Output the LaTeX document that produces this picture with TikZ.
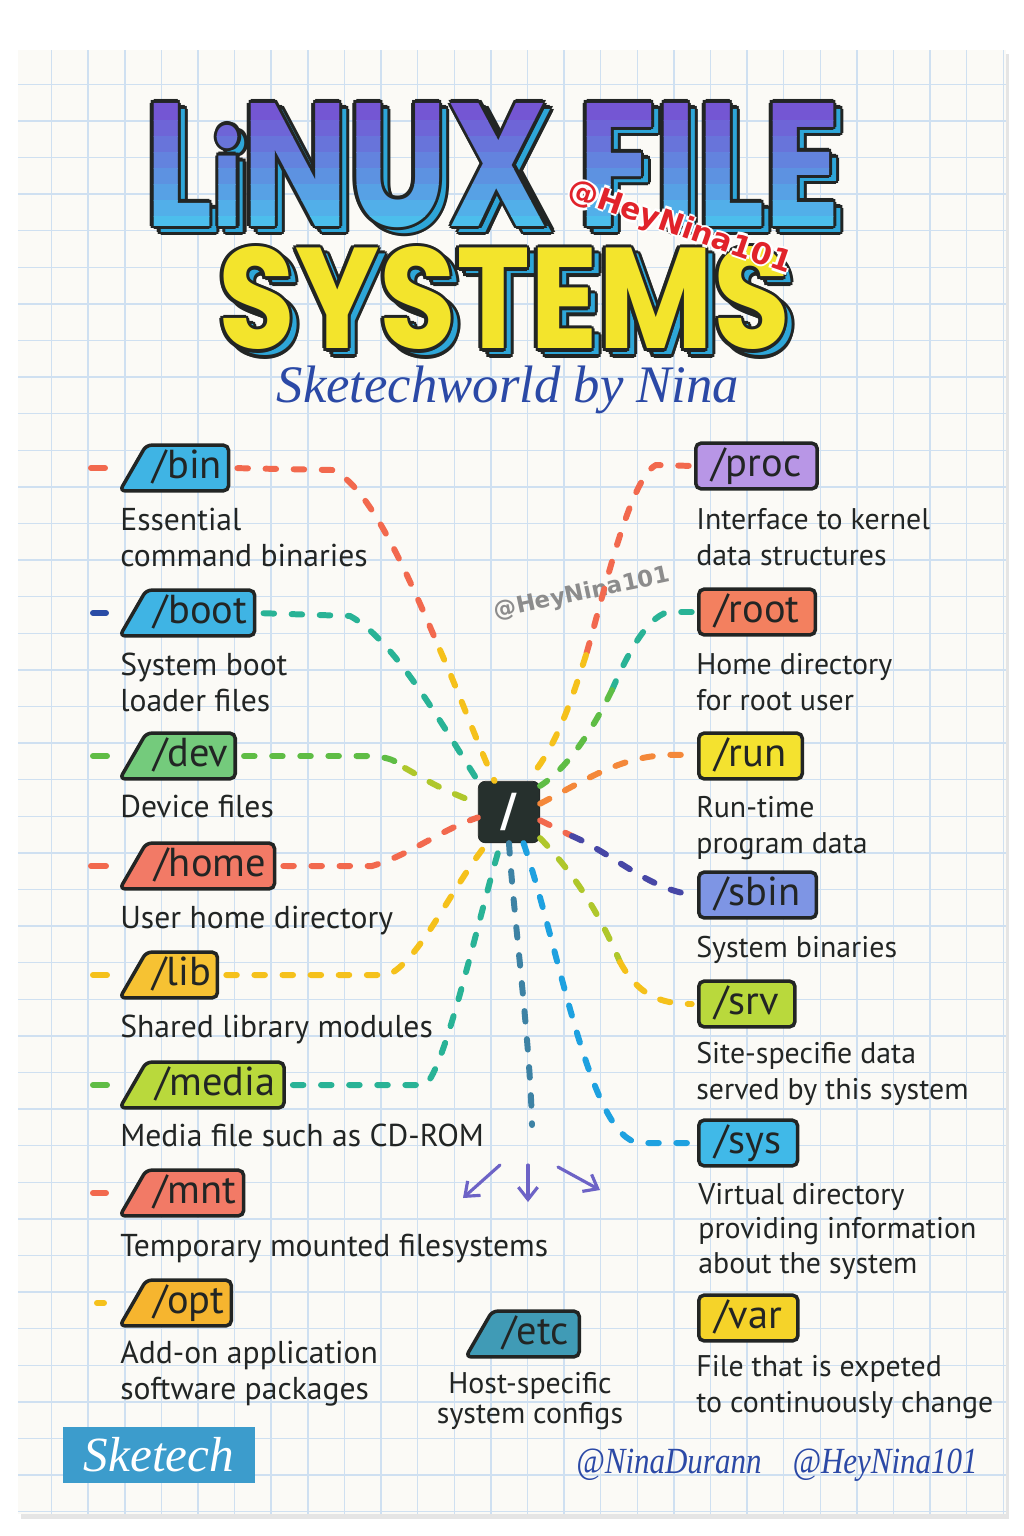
\documentclass[tikz,border=0pt]{standalone}
\usepackage{graphicx}
\usepackage{fontspec}
\setmainfont{PT Sans}
\newfontfamily\titlefont{Poppins}
\newfontfamily\markfont{DejaVu Sans}
\newfontfamily\handfont{Liberation Serif}
\usetikzlibrary{shapes.geometric,arrows.meta,calc}

% paper and ink
\definecolor{paper}{HTML}{FBFAF6}
\definecolor{gridblue}{HTML}{CFE0F1}
\definecolor{inkblack}{HTML}{222524}
\definecolor{slashbox}{HTML}{26302D}
% tag fills
\definecolor{binblue}{HTML}{3FB4E4}
\definecolor{devgreen}{HTML}{74CB7C}
\definecolor{homered}{HTML}{F27A66}
\definecolor{libyellow}{HTML}{F6C233}
\definecolor{medialime}{HTML}{B9D93C}
\definecolor{optorange}{HTML}{F6B52F}
\definecolor{procpurple}{HTML}{B896E6}
\definecolor{rootorange}{HTML}{F3805F}
\definecolor{runyellow}{HTML}{F4E22F}
\definecolor{sbinblue}{HTML}{7E95E4}
\definecolor{sysblue}{HTML}{40B9E8}
\definecolor{varyellow}{HTML}{F5D329}
\definecolor{etcteal}{HTML}{409BB6}
% link colours
\definecolor{lnred}{HTML}{F2694E}
\definecolor{lnyellow}{HTML}{F5C11B}
\definecolor{lnteal}{HTML}{29B396}
\definecolor{lngreen}{HTML}{5FBD45}
\definecolor{lnlime}{HTML}{AFC72B}
\definecolor{lnorange}{HTML}{F4883A}
\definecolor{lnindigo}{HTML}{4747A6}
\definecolor{lnblue}{HTML}{1EA1E0}
\definecolor{lnslate}{HTML}{3D82A4}
\definecolor{lnnavy}{HTML}{2A4CA6}
\definecolor{arrowviolet}{HTML}{6D63C6}
% title and handles
\definecolor{titlepurple}{HTML}{7456D3}
\definecolor{titlecyan}{HTML}{4CBEEC}
\definecolor{titleyellow}{HTML}{F3E42C}
\definecolor{titleshadow}{HTML}{2EA6D8}
\definecolor{handblue}{HTML}{2B49A6}
\definecolor{markred}{HTML}{E1232B}
\definecolor{sketchblue}{HTML}{3C9CCC}

\tikzset{
  dirtag/.style={trapezium, trapezium left angle=60, trapezium right angle=90,
    draw=inkblack, line width=2pt, rounded corners=3pt, anchor=west,
    minimum height=26pt, inner xsep=2pt, inner ysep=1pt,
    text height=17pt, text depth=5pt, text=inkblack,
    font=\fontsize{23}{23}\selectfont},
  boxtag/.style={dirtag, rectangle, inner xsep=9pt},
  desc/.style={anchor=north west, align=left, inner sep=0pt, text=inkblack,
    font=\fontsize{18}{20.5}\selectfont},
  rdesc/.style={desc, font=\fontsize{17}{20.5}\selectfont},
  link/.style={line width=3.4pt, line cap=round, dash pattern=on 6pt off 10pt},
  stub/.style={line width=3.4pt, line cap=round},
  forkarrow/.style={arrowviolet, line width=1.8pt, line cap=round,
    -{Straight Barb[length=7pt,width=11pt]}},
  wordbox/.style={anchor=south west, inner sep=0pt},
}

\newcommand{\linuxword}{\resizebox{13.9cm}{2.46cm}{\titlefont\bfseries L\smash{\scalebox{0.72}{i}}NUX FILE}}
\newcommand{\systemsword}{\resizebox{11.44cm}{2.04cm}{\titlefont\bfseries SYSTEMS}}
% ink outline and shadow behind a title word
\newcommand{\inkword}[3]{%
  \foreach \a in {0,45,...,315}
    \node[wordbox, text=inkblack] at ($#1+(7,6)+(\a:3.5)$) {#2};
  \node[wordbox, text=#3] at ($#1+(7,6)$) {#2};
  \foreach \a in {0,45,...,315}
    \node[wordbox, text=inkblack] at ($#1+(\a:3.5)$) {#2};
}

\begin{document}
\begin{tikzpicture}[x=0.02cm, y=-0.02cm]
    \useasboundingbox (0,0) rectangle (1024,1536);
    \fill[white] (0,0) rectangle (1024,1536);
    % Sheet of squared paper
    \fill[black!10] (21,54) rectangle (1009,1519);
    \fill[paper] (18,50) rectangle (1006,1514);
    \begin{scope}
        \clip (18,50) rectangle (1006,1514);
        \foreach \x in {15,51.6,...,1010} \draw[gridblue, line width=0.8pt] (\x,50) -- (\x,1514);
        \foreach \y in {11,47.6,...,1520} \draw[gridblue, line width=0.8pt] (18,\y) -- (1006,\y);
    \end{scope}

    % Title
    \inkword{(145,228)}{\linuxword}{titleshadow}
    \foreach \i in {0,...,7} {
        \pgfmathsetmacro\ya{\i==0 ? 40 : 104+\i*16}
        \pgfmathsetmacro\yb{\i==7 ? 270 : 120+\i*16}
        \pgfmathtruncatemacro\mix{100-\i*100/7}
        \begin{scope}
            \clip (120,\ya) rectangle (880,\yb);
            \node[wordbox, text=titlepurple!\mix!titlecyan] at (145,228) {\linuxword};
        \end{scope}
    }
    \inkword{(218,350)}{\systemsword}{titleshadow}
    \node[wordbox, text=titleyellow] (systems) at (218,350) {\systemsword};
    \foreach \a in {0,90,180,270}
        \node[rotate=-19, text=white, font=\markfont\bfseries\fontsize{17}{17}\selectfont] at ($(680,228)+(\a:2.5)$) {@HeyNina101};
    \node[rotate=-19, text=markred, font=\markfont\bfseries\fontsize{17}{17}\selectfont] (redmark) at (680,228) {@HeyNina101};
    \node[text=handblue, font=\handfont\itshape\fontsize{30}{30}\selectfont] (subtitle) at (508,390) {Sketechworld by Nina};
    \node[rotate=12, text=black!45, font=\markfont\bfseries\fontsize{13}{13}\selectfont] (graymark) at (582,594) {@HeyNina101};

    % Root directory
    \node[fill=slashbox, draw=inkblack, rounded corners=4pt, minimum size=35pt, text=white,
        font=\markfont\bfseries\fontsize{26}{26}\selectfont] (slash) at (509,812) {/};

    % Left-hand tags
    \node[dirtag, fill=binblue] (bin) at (131,468) {/bin};
    \node[desc] (binD) at (120,508) {Essential\\command binaries};
    \node[dirtag, fill=binblue] (boot) at (131,613) {/boot};
    \node[desc] (bootD) at (120,653) {System boot\\loader files};
    \node[dirtag, fill=devgreen] (dev) at (131,756) {/dev};
    \node[desc] (devD) at (120,795) {Device files};
    \node[dirtag, fill=homered] (home) at (131,866) {/home};
    \node[desc] (homeD) at (120,906) {User home directory};
    \node[dirtag, fill=libyellow] (lib) at (131,975) {/lib};
    \node[desc] (libD) at (120,1015) {Shared library modules};
    \node[dirtag, fill=medialime] (media) at (131,1085) {/media};
    \node[desc] (mediaD) at (120,1124) {Media file such as CD-ROM};
    \node[dirtag, fill=homered] (mnt) at (131,1193) {/mnt};
    \node[desc] (mntD) at (120,1234) {Temporary mounted filesystems};
    \node[dirtag, fill=optorange] (opt) at (131,1303) {/opt};
    \node[desc] (optD) at (120,1341) {Add-on application\\software packages};

    % Right-hand tags
    \node[boxtag, fill=procpurple] (proc) at (694,466) {/proc};
    \node[rdesc] (procD) at (696,508) {Interface to kernel\\data structures};
    \node[boxtag, fill=rootorange] (root) at (697,612) {/root};
    \node[rdesc] (rootD) at (696,653) {Home directory\\for root user};
    \node[boxtag, fill=runyellow] (run) at (697,756) {/run};
    \node[rdesc] (runD) at (696,796) {Run-time\\program data};
    \node[boxtag, fill=sbinblue] (sbin) at (697,895) {/sbin};
    \node[rdesc] (sbinD) at (696,936) {System binaries};
    \node[boxtag, fill=medialime] (srv) at (697,1004) {/srv};
    \node[rdesc] (srvD) at (696,1042) {Site-specifie data\\served by this system};
    \node[boxtag, fill=sysblue] (sys) at (697,1143) {/sys};
    \node[rdesc, font=\fontsize{17}{19.5}\selectfont] (sysD) at (698,1183) {Virtual directory\\providing information\\about the system};
    \node[boxtag, fill=varyellow] (var) at (697,1318) {/var};
    \node[rdesc] (varD) at (696,1355) {File that is expeted\\to continuously change};

    % Bottom tag
    \node[dirtag, fill=etcteal, inner xsep=4pt] (etc) at (477,1334) {/etc};
    \node[desc, anchor=north, align=center, font=\fontsize{17}{17}\selectfont] (etcD) at (530,1372) {Host-specific\\system configs};

    % Left-hand links
    \coordinate (binM) at (440,650);
    \draw[link, lnred, shorten <=4pt] (bin.east) -- (332,470) .. controls (370,485) and (410,580) .. (binM);
    \draw[link, lnyellow] (binM) .. controls (462,700) and (478,745) .. (slash.115);
    \draw[link, lnteal, shorten <=4pt] (boot.east) -- (350,616) .. controls (395,640) and (445,730) .. (slash.135);
    \coordinate (devM) at (405,768);
    \draw[link, lngreen, shorten <=4pt] (dev.east) -- (375,756) .. controls (392,759) .. (devM);
    \draw[link, lnlime] (devM) .. controls (440,788) .. (slash.165);
    \draw[link, lnred, shorten <=4pt] (home.east) -- (372,866) .. controls (410,855) and (440,830) .. (slash.190);
    \draw[link, lnyellow, shorten <=4pt] (lib.east) -- (388,975) .. controls (420,960) and (450,890) .. (slash.235);
    \draw[link, lnteal, shorten <=4pt] (media.east) -- (425,1085) .. controls (445,1070) and (478,920) .. (slash.255);
    % Links going down
    \coordinate (down) at (532,1125);
    \draw[link, lnslate] (slash.south) .. controls (514,920) and (530,1040) .. (down);
    \draw[forkarrow] ($(down)+(-32,40)$) -- ++(-37,33);
    \draw[forkarrow] ($(down)+(-4,40)$) -- ++(0,37);
    \draw[forkarrow] ($(down)+(26,42)$) -- ++(42,23);
    % Right-hand links
    \coordinate (procM) at (586,655);
    \draw[link, lnred, shorten <=3pt] (proc.west) -- (656,465) .. controls (630,478) and (605,590) .. (procM);
    \draw[link, lnyellow] (procM) .. controls (570,705) and (555,750) .. (slash.60);
    \coordinate (rootM) at (612,690);
    \draw[link, lnteal, shorten <=3pt] (root.west) -- (668,612) .. controls (645,618) and (625,660) .. (rootM);
    \draw[link, lngreen] (rootM) .. controls (590,735) and (565,770) .. (slash.40);
    \draw[link, lnorange, shorten >=3pt] (slash.15) .. controls (595,775) and (630,750) .. (run.west);
    \coordinate (sbinM) at (572,836);
    \draw[link, lnred] (slash.-15) -- (sbinM);
    \draw[link, lnindigo, shorten >=3pt] (sbinM) .. controls (610,852) and (650,890) .. (sbin.west);
    \coordinate (srvM) at (620,962);
    \draw[link, lnlime] (slash.-40) .. controls (580,880) and (602,920) .. (srvM);
    \draw[link, lnyellow, shorten >=3pt] (srvM) .. controls (638,995) and (660,1004) .. (srv.west);
    \draw[link, lnblue, shorten >=3pt] (slash.-65) .. controls (560,950) and (590,1140) .. (640,1143) -- (sys.west);

    % Stubs in front of the left-hand tags
    \draw[stub, lnred] ($(bin.west)+(-40,0)$) -- ++(14,0);
    \draw[stub, lnnavy] ($(boot.west)+(-38,0)$) -- ++(13,0);
    \draw[stub, lngreen] ($(dev.west)+(-38,0)$) -- ++(14,0);
    \draw[stub, lnred] ($(home.west)+(-40,0)$) -- ++(15,0);
    \draw[stub, lnyellow] ($(lib.west)+(-38,0)$) -- ++(14,0);
    \draw[stub, lngreen] ($(media.west)+(-38,0)$) -- ++(14,0);
    \draw[stub, lnred] ($(mnt.west)+(-38,0)$) -- ++(13,0);
    \draw[stub, lnyellow] ($(opt.west)+(-34,0)$) -- ++(7,0);

    % Footer
    \node[fill=sketchblue, minimum width=109pt, minimum height=32pt, text=white,
        font=\handfont\itshape\fontsize{28}{28}\selectfont] (sketch) at (159,1455) {Sketech};
    \node[text=handblue, font=\handfont\itshape\fontsize{21}{21}\selectfont] (handles) at (777,1465) {\scalebox{0.84}[1]{@NinaDurann\quad @HeyNina101}};
\end{tikzpicture}
\end{document}
